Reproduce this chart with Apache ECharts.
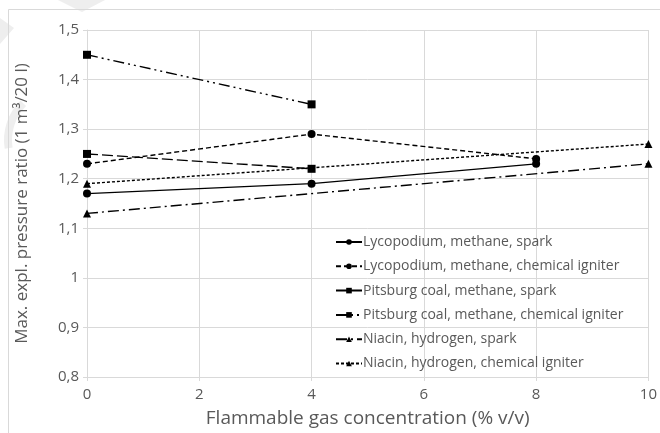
<!DOCTYPE html>
<html>
<head>
<meta charset="utf-8">
<script src="https://cdn.jsdelivr.net/npm/echarts@6/dist/echarts.min.js"></script>
<style>
  html, body { margin: 0; padding: 0; background: #fff; }
  #chart { width: 660px; height: 433px; }
</style>
</head>
<body>
<div id="chart"></div>
<script>
// Gas concentrations (% v/v) tested for each dust / gas / ignition combination
const lycoX = [0, 4, 8];
const lycoSpark = [1.17, 1.19, 1.23];
const lycoChem = [1.23, 1.29, 1.24];

const pitsX = [0, 4];
const pitsSpark = [1.25, 1.22];
const pitsChem = [1.45, 1.35];

const niacinX = [0, 10];
const niacinSpark = [1.13, 1.23];
const niacinChem = [1.19, 1.27];

const seriesNames = [
  'Lycopodium, methane, spark',
  'Lycopodium, methane, chemical igniter',
  'Pitsburg coal, methane, spark',
  'Pitsburg coal, methane, chemical igniter',
  'Niacin, hydrogen, spark',
  'Niacin, hydrogen, chemical igniter'
];

const xTicks = [0, 2, 4, 6, 8, 10];
const yTicks = [0.8, 0.9, 1.0, 1.1, 1.2, 1.3, 1.4, 1.5];

const xAxisTitle = 'Flammable gas concentration (% v/v)';
const yAxisTitle = 'Max. expl. pressure ratio (1 m\u00B3/20 l)';

const pairs = (xs, ys) => xs.map((x, i) => [x, ys[i]]);

const FONT = '"Open Sans", "Noto Sans", sans-serif';
const TEXT = '#595959';
const GRID = '#d9d9d9';

function lineSeries(name, data, symbol, size, dash) {
  return {
    name: name,
    type: 'line',
    data: data,
    symbol: symbol,
    symbolSize: size,
    showSymbol: true,
    lineStyle: { color: '#000', width: 1.4, type: dash },
    itemStyle: { color: '#000' },
    emphasis: { disabled: true },
    animation: false
  };
}

const chart = echarts.init(document.getElementById('chart'), null, { renderer: 'canvas' });

chart.setOption({
  backgroundColor: '#fff',
  animation: false,
  textStyle: { fontFamily: FONT },
  graphic: [
    // faint watermark shapes in the top-left corner
    { type: 'polygon', silent: true, z: -10,
      shape: { points: [[58, 0], [105, 0], [82, 12]] },
      style: { fill: '#eeeeee' } },
    { type: 'polygon', silent: true, z: -10,
      shape: { points: [[0, 18], [14, 28], [0, 44]] },
      style: { fill: '#eeeeee' } },
    { type: 'arc', silent: true, z: -10,
      shape: { cx: 60, cy: 140, r: 52, startAngle: Math.PI * 0.95, endAngle: Math.PI * 1.25 },
      style: { stroke: '#eeeeee', lineWidth: 8, fill: 'none' } },
    // chart frame
    { type: 'rect', silent: true, z: -5,
      shape: { x: 8.5, y: 9.5, width: 700, height: 500 },
      style: { stroke: '#d9d9d9', lineWidth: 1, fill: 'none' } }
  ],
  grid: { left: 87, right: 8, top: 30, bottom: 55 },
  legend: {
    orient: 'vertical',
    left: 330,
    top: 230,
    itemWidth: 26,
    itemHeight: 7,
    itemGap: 10.3,
    data: seriesNames,
    textStyle: { color: TEXT, fontSize: 14, fontFamily: FONT, padding: [0, 0, 0, -4] },
    selectedMode: false
  },
  xAxis: {
    type: 'value',
    min: 0,
    max: 10,
    interval: 2,
    name: xAxisTitle,
    nameLocation: 'middle',
    nameGap: 32,
    nameTextStyle: { color: TEXT, fontSize: 19, fontFamily: FONT },
    axisLine: { show: true, lineStyle: { color: GRID } },
    axisTick: { show: true, length: 4, lineStyle: { color: GRID } },
    axisLabel: { color: TEXT, fontSize: 15, margin: 10,
      formatter: v => xTicks.includes(v) ? String(v) : '' },
    splitLine: { show: true, lineStyle: { color: GRID, width: 1 } }
  },
  yAxis: {
    type: 'value',
    min: 0.8,
    max: 1.5,
    interval: 0.1,
    name: yAxisTitle,
    nameLocation: 'middle',
    nameGap: 56,
    nameRotate: 90,
    nameTextStyle: { color: TEXT, fontSize: 17, fontFamily: FONT },
    axisLine: { show: true, lineStyle: { color: GRID } },
    axisTick: { show: true, length: 4, lineStyle: { color: GRID } },
    axisLabel: {
      color: TEXT, fontSize: 15, margin: 8,
      formatter: v => {
        const t = yTicks.find(k => Math.abs(k - v) < 1e-6);
        if (t === undefined) return '';
        return String(Math.round(t * 10) / 10).replace('.', ',');
      }
    },
    splitLine: { show: true, lineStyle: { color: GRID, width: 1 } }
  },
  series: [
    lineSeries(seriesNames[0], pairs(lycoX, lycoSpark), 'circle', 8, 'solid'),
    lineSeries(seriesNames[1], pairs(lycoX, lycoChem), 'circle', 8, [5, 3]),
    lineSeries(seriesNames[2], pairs(pitsX, pitsSpark), 'rect', 8, [11, 4]),
    lineSeries(seriesNames[3], pairs(pitsX, pitsChem), 'rect', 8, [11, 4, 2, 4, 2, 4]),
    lineSeries(seriesNames[4], pairs(niacinX, niacinSpark), 'triangle', 8, [11, 4, 2, 4]),
    lineSeries(seriesNames[5], pairs(niacinX, niacinChem), 'triangle', 8, [3, 2])
  ]
});
</script>
</body>
</html>
